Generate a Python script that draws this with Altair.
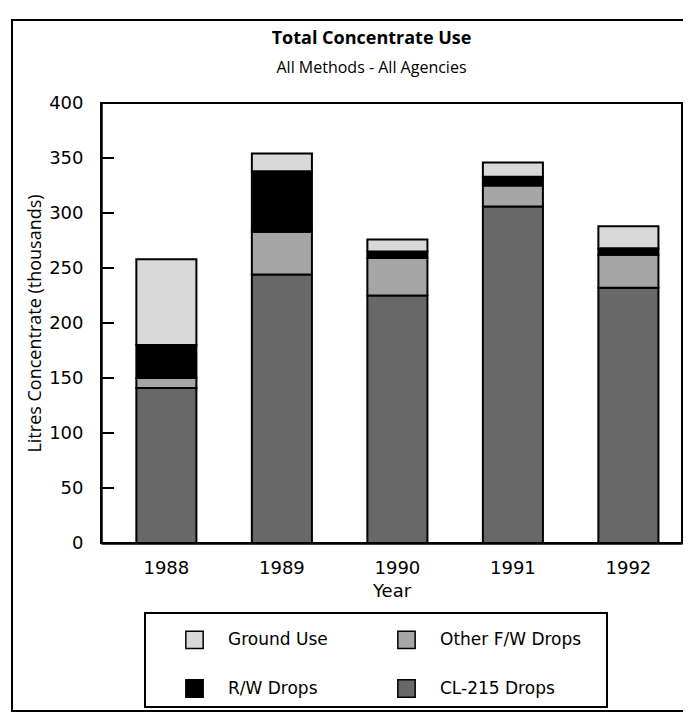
import altair as alt
import pandas as pd

years = ["1988", "1989", "1990", "1991", "1992"]
series = ["Ground Use", "Other F/W Drops", "R/W Drops", "CL-215 Drops"]
cl215 = [141, 244, 225, 306, 232]
other_fw = [9, 39, 34, 19, 30]
rw_drops = [30, 55, 6, 8, 6]
ground = [78, 16, 11, 13, 20]
y_ticks = [0, 50, 100, 150, 200, 250, 300, 350, 400]

stack_pos = {"CL-215 Drops": 0, "Other F/W Drops": 1, "R/W Drops": 2, "Ground Use": 3}
rows = []
for i, y in enumerate(years):
    for name, vals in [("CL-215 Drops", cl215), ("Other F/W Drops", other_fw),
                       ("R/W Drops", rw_drops), ("Ground Use", ground)]:
        rows.append({"Year": y, "Type": name, "Value": vals[i], "pos": stack_pos[name]})
df = pd.DataFrame(rows)
tick_df = pd.DataFrame({"tick": y_ticks})

FONT = "Open Sans"
LFONT = "DejaVu Sans"
fills = ["#d9d9d9", "#a6a6a6", "#000000", "#686868"]

x_enc = alt.X("Year:N", sort=years,
              scale=alt.Scale(paddingInner=0.48, paddingOuter=0.255, align=0.6),
              axis=alt.Axis(title="Year", labelAngle=0, ticks=False, labelPadding=16,
                            titlePadding=5, domainWidth=2.5, domainColor="black",
                            labelFont=LFONT, labelFontSize=18, titleFont=LFONT,
                            titleFontSize=18))

bars = alt.Chart(df).mark_bar(stroke="black", strokeWidth=2).encode(
    x=x_enc,
    y=alt.Y("sum(Value):Q", scale=alt.Scale(domain=[0, 400], nice=False),
            axis=alt.Axis(title="Litres Concentrate (thousands)", values=y_ticks,
                          ticks=False, labelPadding=18, titlePadding=4, grid=False,
                          domainWidth=2.5, domainColor="black", labelFont=LFONT,
                          labelFontSize=18, titleFont=FONT, titleFontSize=18)),
    color=alt.Color("Type:N", scale=alt.Scale(domain=series, range=fills),
                    legend=alt.Legend(title=None, orient="none", legendX=84, legendY=527,
                                      columns=2, direction="horizontal", symbolType="square",
                                      symbolSize=300, symbolStrokeColor="black",
                                      symbolStrokeWidth=1.5, symbolOpacity=1,
                                      labelFont=LFONT, labelFontSize=17, labelOffset=24,
                                      columnPadding=66, rowPadding=24, padding=0)),
    order=alt.Order("pos:Q", sort="ascending"),
)

# inward-pointing y ticks, placed through the same y scale
ticks = alt.Chart(tick_df).mark_tick(orient="horizontal", color="black", thickness=2,
                                     size=12, opacity=1).encode(
    x=alt.value(7),
    y=alt.Y("tick:Q", scale=alt.Scale(domain=[0, 400], nice=False), axis=None),
)

one = pd.DataFrame({"k": [0]})
outer_box = alt.Chart(one).mark_rect(fill="transparent", stroke="black", strokeWidth=2).encode(
    x=alt.value(-89), x2=alt.value(640), y=alt.value(-83), y2=alt.value(608))
legend_box = alt.Chart(one).mark_rect(fill="transparent", stroke="black", strokeWidth=2).encode(
    x=alt.value(44), x2=alt.value(506), y=alt.value(510), y2=alt.value(604))

chart = alt.layer(outer_box, legend_box, bars, ticks).resolve_scale(
    y="independent", x="independent"
).resolve_axis(y="independent").properties(
    width=581, height=440,
    autosize=alt.AutoSizeParams(type="none"),
    padding={"left": 93, "top": 95, "right": 1, "bottom": 170},
    title=alt.TitleParams("Total Concentrate Use", subtitle="All Methods - All Agencies",
                          anchor="middle", frame="group", dx=-20, offset=-57, fontSize=18,
                          fontWeight="bold", subtitleFontSize=16, subtitlePadding=12,
                          color="black", subtitleColor="black", font=FONT, subtitleFont=FONT),
).configure_view(stroke="black", strokeWidth=2).configure_axis(
    labelColor="black", titleColor="black", titleFontWeight="normal"
).configure_legend(labelColor="black")

chart.save("out.html", embed_options={"renderer": "svg", "actions": False})
